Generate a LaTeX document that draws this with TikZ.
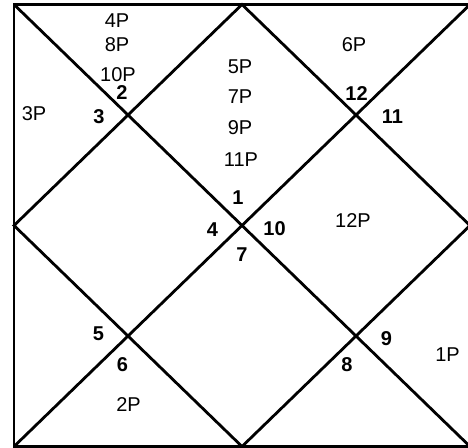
\documentclass[tikz,border=0pt]{standalone}
\usepackage{fontspec}
\setmainfont{Liberation Sans}
\tikzset{
  planet/.style={font=\fontsize{20}{23}\selectfont, inner sep=0pt},
  house/.style={font=\fontsize{20}{23}\selectfont\bfseries, inner sep=0pt},
}
\begin{document}
\begin{tikzpicture}[x=1pt,y=-1pt,line width=2.8pt]
\useasboundingbox (0,0) rectangle (468,447);
\clip (0,0) rectangle (468,447);
% chart frame
\coordinate (tl) at (14,4.5);
\coordinate (tr) at (470,4.5);
\coordinate (br) at (470,446.5);
\coordinate (bl) at (14,446.5);
\coordinate (tm) at (242,4.5);
\coordinate (bm) at (242,446.5);
\coordinate (lm) at (14,225.5);
\coordinate (rm) at (470,225.5);
\draw (tl) rectangle (br);
\draw (tl) -- (br);
\draw (tr) -- (bl);
\draw (tm) -- (lm) -- (bm) -- (rm) -- cycle;
% house numbers
\node[house] (h1) at (238,198) {1};
\node[house] (h2) at (122,92.5) {2};
\node[house] (h3) at (99,117) {3};
\node[house] (h4) at (212.5,229.5) {4};
\node[house] (h5) at (98.5,333.5) {5};
\node[house] (h6) at (122.5,365) {6};
\node[house] (h7) at (242,254.5) {7};
\node[house] (h8) at (347,364.5) {8};
\node[house] (h9) at (386.5,339) {9};
\node[house] (h10) at (274.5,229) {10};
\node[house] (h11) at (392.5,117) {11};
\node[house] (h12) at (356.5,93.5) {12};
% planets
\node[planet] (p4) at (117,20.5) {4P};
\node[planet] (p8) at (117,45) {8P};
\node[planet] (p10) at (118,74.5) {10P};
\node[planet] (p3) at (34,114) {3P};
\node[planet] (p5) at (240,66.5) {5P};
\node[planet] (p7) at (240,96.5) {7P};
\node[planet] (p9) at (240,127.5) {9P};
\node[planet] (p11) at (241,159.5) {11P};
\node[planet] (p6) at (354,45) {6P};
\node[planet] (p12) at (353,221) {12P};
\node[planet] (p2) at (128.5,404.5) {2P};
\node[planet] (p1) at (447.5,354.5) {1P};
\end{tikzpicture}
\end{document}
